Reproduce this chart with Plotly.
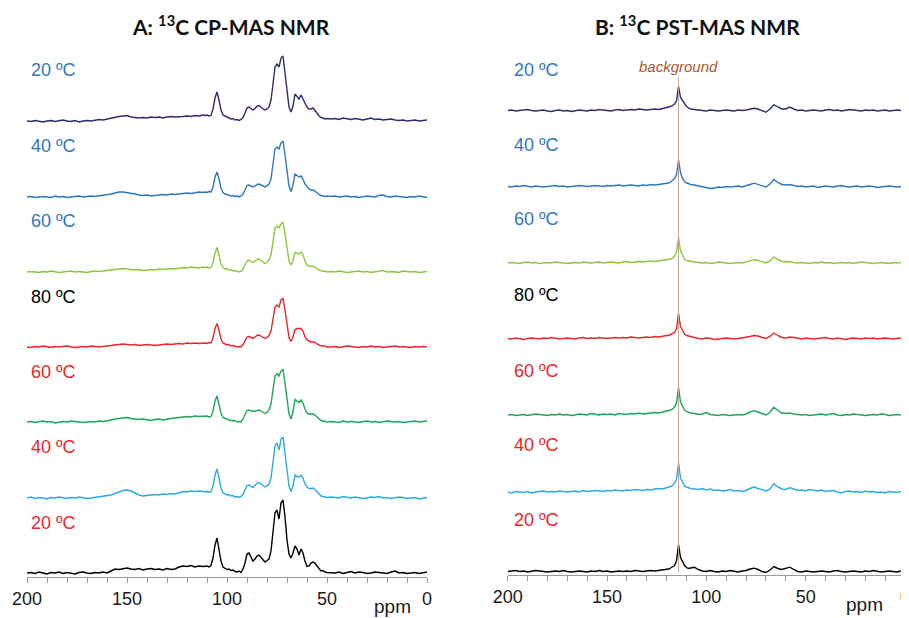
import plotly.graph_objects as go

# ---------------- data ----------------
# chemical-shift sampling grids (ppm), coarse on baseline, fine across peaks
PPM_A = list(range(200, 111, -2)) + list(range(111, 49, -1)) + list(range(48, -1, -2))
PPM_B = list(range(200, 119, -2)) + list(range(119, 107, -1)) + list(range(106, -1, -2))

LABELS_A = ["20 ºC", "40 ºC", "60 ºC", "80 ºC", "60 ºC", "40 ºC", "20 ºC"]
LABELS_B = ["20 ºC", "40 ºC", "60 ºC", "80 ºC", "60 ºC", "40 ºC", "20 ºC"]
BACKGROUND_PPM = 114
TICK_PPM = [200, 150, 100, 50, 0]

# Panel A: 13C CP-MAS intensities (arbitrary units), order top -> bottom
A1 = ([0, -0.5, 0.5, 0, -1, 0, 0.5, -0.5, 0, 1, 0, -0.5, 0.5, -1, 0, 0.5, 0, 1, 1.5, 1, 2]
      + [2.5, 3.5, 4.5, 5, 5.5, 4, 3.5, 3, 3.5, 3, 4, 3.5, 4, 3, 4, 4.5, 4]
      + [4, 4.5, 5, 4.5, 5.5, 5, 6]
      + [5.5, 6, 5, 5.5, 12, 23, 29, 21, 11, 6,
         5, 3.5, 3, 2, 2.5, 1, 1.5, 0.5, 1.5, 3.5,
         8, 13, 14, 12.5, 11, 12.5, 15, 15.5, 13.5, 12,
         11, 12, 14, 21, 37, 54, 57, 54, 63, 65,
         48, 28, 14, 9, 15, 27, 25, 22, 26, 22,
         17, 14, 12, 12, 13, 11, 8, 5, 3.5, 3,
         2, 2.5]
      + [2, 2.5, 1.5, 3, 2, 1.5, 2.5, 2, 1, 2, 3, 1.5, 2, 1, 1.5, 2, 1, 0.5, 1, 0, 0.5, 1, 0, 0.5, 1])
A2 = ([0, 0.5, -0.5, 0, 0.5, 0, -0.5, 1, 0, 0.5, -0.5, 0, 0.5, 1, 0, 0.5, 1, 0.5, 1, 1.5, 2]
      + [3, 4, 5, 5, 4.5, 3.5, 3, 2, 1.5, 2, 1, 1.5, 2, 2.5, 2, 3, 2.5]
      + [3, 3.5, 4, 3.5, 4.5, 5, 4.5]
      + [5, 4.5, 5.5, 5, 10, 20, 25, 18, 9, 4.5,
         3, 2.5, 2, 1, 1.5, 0.5, 1, 0, 1, 3,
         7, 11.5, 12, 11, 10, 11, 12.5, 13, 12, 10.5,
         10, 11, 13, 18, 33, 48, 50, 48, 54, 56,
         42, 25, 11, 5.5, 12, 23, 21, 20, 21, 18,
         13, 10, 8, 7, 7, 6, 4, 2.5, 1.5, 1,
         0.5, 1]
      + [0.5, 1, 0, 0.5, 1, 0, 0.5, -0.5, 0, 1, 0.5, 0, 1.5, 2, 0.5, 0, 1, 0.5, 0, -0.5, 0.5, 0, 1, 0, -0.5])
A3 = ([0, 0.5, 0, -0.5, 0.5, 0, 1, 0, -0.5, 0, 0.5, 1, 0, 0.5, 0, -0.5, 0.5, 1, 0.5, 1, 1.5]
      + [2, 2.5, 3, 3.5, 3, 2.5, 2, 2.5, 1.5, 2, 2.5, 2, 3, 2.5, 3, 3.5, 3]
      + [4, 4.5, 4, 5, 4.5, 4, 5]
      + [4.5, 5, 4, 4.5, 9, 19, 24.5, 17, 8, 4.5,
         3, 3.5, 2, 2.5, 1, 1.5, 0.5, 0, 0.5, 3,
         7, 11, 12, 10.5, 9.5, 11, 12.5, 13, 11.5, 10,
         8.5, 10, 12, 17, 30, 44, 46, 44, 48, 50,
         38, 22, 11, 7, 11, 19.5, 18.5, 18, 20, 17,
         11, 7, 6, 5.5, 5.5, 5, 3.5, 2, 1.5, 0.5,
         1, 0]
      + [0.5, 0, 1, 0.5, -0.5, 0, 0.5, 1, 0, 0.5, -0.5, 0, 0.5, 1.5, 0, 0.5, 0, -0.5, 1, 0.5, 0, 0.5, -0.5, 0, 0.5])
A4 = ([0, -0.5, 0.5, 0, 1, 0, -0.5, 0.5, 0, 0.5, 1, 0, -0.5, 0, 0.5, 0, 1, 0.5, 0, 0.5, 1]
      + [1.5, 2, 2.5, 3, 2.5, 2, 2.5, 1.5, 2, 2.5, 2, 1.5, 2, 2.5, 3, 2.5, 3]
      + [3.5, 3, 4, 3.5, 4, 3.5, 4]
      + [4, 3.5, 4.5, 4, 9, 18.5, 23.5, 16.5, 8, 4,
         3, 2, 2.5, 1, 1.5, 0.5, 0, 0.5, 0, 2.5,
         6, 10, 10.5, 9.5, 8.5, 10, 11.5, 12, 11, 9.5,
         8.5, 9.5, 11.5, 16, 28, 40, 42, 40, 47, 48.5,
         37, 21, 9.5, 5.5, 10, 17.5, 18.5, 18.5, 18.5, 16,
         10, 7, 6, 5, 5, 4.5, 3, 2, 1, 1.5,
         0.5, 0]
      + [0, 0.5, -0.5, 0, 1, 0.5, 0, -0.5, 0.5, 0, 1, 0, 0.5, -0.5, 0, 0.5, 1, 0, 0.5, 0, -0.5, 0.5, 0, 0.5, 0])
A5 = ([0, 0.5, -0.5, 0, 1, 0, 0.5, -1, 0, 0.5, 0, 1, 0.5, 0, -0.5, 0, 0.5, 0, 1, 0.5, 1]
      + [2, 3, 3.5, 4, 4.5, 3.5, 3, 2.5, 3, 2, 1.5, 2.5, 3, 2, 3, 3.5, 4]
      + [4.5, 5, 5.5, 5, 6, 5.5, 6]
      + [5.5, 6, 5, 5.5, 11, 21, 26, 18.5, 9, 4.5,
         3.5, 2.5, 2, 1.5, 1, 1.5, 0, 0.5, 0, 3,
         7, 11.5, 12, 11, 10.5, 11, 11.5, 12, 11, 9.5,
         8.5, 9.5, 12, 18, 32, 46, 48.5, 46, 51, 52.5,
         39, 21, 8, 3, 10, 22.5, 21, 19.5, 22, 19,
         13, 9, 8, 8, 8, 7, 5, 3, 1.5, 1,
         0.5, 0]
      + [0.5, 0, -0.5, 1, 0, 0.5, 0, -0.5, 0.5, 1, 0, 0.5, -0.5, 0, 1, 0.5, 0, 0.5, -0.5, 0, 0.5, 1, 0, 0.5, 1])
A6 = ([0, 1, -0.5, 0.5, 0, -1, 0.5, 0, 1, 0, -0.5, 0.5, 0, 1, 0.5, -0.5, 0, 0.5, 1, 1.5, 2]
      + [3, 4.5, 6, 7.5, 8, 7, 5, 3, 2, 2.5, 3, 3.5, 3, 4, 3.5, 4.5, 4]
      + [5.5, 6.5, 6, 7, 6.5, 7, 6.5]
      + [6, 6.5, 5.5, 6.5, 12, 23, 29, 20, 10, 5,
         4, 3, 3.5, 2, 2.5, 1, 1.5, 0.5, 1.5, 3.5,
         8, 12.5, 13, 12, 10.5, 12.5, 15, 15.5, 14, 12,
         11, 12, 14, 20, 36, 52, 55, 48, 59, 61,
         45, 26, 12, 6.5, 12, 23, 21.5, 21, 23, 20,
         14, 11, 9.5, 9.5, 10, 8.5, 6, 3.5, 2, 1.5,
         1, 0.5]
      + [1, 0.5, 0, 1.5, 0.5, 0, 1, 0.5, -0.5, 0, 1, 0.5, 1.5, 0, 0.5, -0.5, 0, 1, 0.5, -0.5, 0, 0.5, -1, 0, 0.5])
A7 = ([0, 0.5, -0.5, 1, 0, -1, 0.5, 0, 1, -0.5, 0.5, 0, -1, 0.5, 1, 0, -0.5, 0.5, 0, 1, 0]
      + [2, 4, 3.5, 4.5, 5, 4, 3.5, 4.5, 3, 4, 4.5, 3.5, 4, 3, 4.5, 3.5, 4]
      + [6, 7, 6.5, 7.5, 6, 7, 6.5]
      + [6.5, 7, 6, 7.5, 15, 28, 35, 24, 12, 6,
         4.5, 3.5, 4, 2.5, 3, 1.5, 1, 2, 0.5, 4,
         10, 19, 20, 16, 12, 14, 17, 18, 15.5, 13,
         11, 12.5, 14, 22, 41, 60, 63, 54, 70, 73,
         56, 33, 19, 15, 20, 27, 24, 18, 24, 20,
         12, 6.5, 7, 10, 11, 10, 7, 4, 2, 2.5,
         1, 0.5]
      + [0.5, 0, 1, -0.5, 0.5, 1.5, 0, 1, 0.5, -0.5, 0, 1, 0.5, 0, -0.5, 1, 2, 0, 0.5, -0.5, 0, 0.5, -0.5, 0, 1])

# Panel B: 13C PST-MAS intensities (arbitrary units), order top -> bottom
B1 = ([0, 0.5, -0.5, 0, 0.5, 1, 0, -0.5, 0, 0.5,
       -0.5, -1, 0, 0.5, -0.5, 0, -1, 0, 0.5, 0,
       -0.5, 0.5, 0, 1, 0.5, 0, -0.5, 0.5, 1, 0,
       0.5, 1, 0.5, 1.5, 1, 0.5, 1, 1.5, 1, 2,
       2.5]
      + [3, 4, 5, 6.5, 10, 24.5, 13, 10, 6, 4, 2.5, 1.5]
      + [1, 0.5, 0, -0.5, 0.5, 0, -0.5, 0, 0.5, 0,
         -0.5, 0.5, 0, 0.5, 1.5, 2.3, 1.5, 0, -1.7, 1.5,
         5.7, 3.5, 1.5, 1.5, 3.4, 1.5, 0, 0.5, -0.5, 0,
         0.5, 0, -0.5, 0.5, 1, 0, 0.5, -0.5, 0, 1,
         0.5, 0, -0.5, 0.5, 0, 0.5, -0.5, 0, 0.5, -0.5,
         0, 0.5, 0, -0.5])
B2 = ([0, -0.5, 0.5, 0, 1, 0, -0.5, 0.5, 0, -0.5,
       0, 0.5, 1, 0, 0.5, -0.5, 0, 0.5, 1, 0.5,
       0, 0.5, 1, 0.5, 0, 1, 0.5, 1, 1.5, 0.5,
       1, 1.5, 1, 0.5, 1.5, 1, 2, 1.5, 2, 2.5,
       3]
      + [3.5, 4.5, 6, 8, 12, 26.5, 14, 8, 5, 3.5, 3, 2]
      + [1.5, 0.5, 0, -1, -2, -1.5, -0.5, -1, 0, -0.5,
         0, 0.5, -0.5, 0.5, 2, 3.3, 2, 0.5, -0.5, 2.5,
         7, 4, 2, 1.5, 2, 1, 0, 0.5, -0.5, 0,
         0.5, -1, 0, 0.5, 0, -0.5, 0.5, 1, 0, -0.5,
         0, 0.5, -0.5, 0, 0.5, 0, -1, -0.5, 0, 0.5,
         0, -0.5, 0, -0.5])
B3 = ([0, 0.5, 0, -0.5, 0.5, 1, 0, 0.5, -0.5, 0,
       0.5, 0, 1, 0.5, 0, -0.5, 0, 0.5, 0, 1,
       0.5, 0, 0.5, 1, 0, 0.5, 1, 0.5, 0, 1,
       1.5, 0.5, 1, 1.5, 1, 1.5, 2, 1.5, 2, 2.5,
       3]
      + [3.5, 4, 5, 7, 11, 25.5, 12, 7, 4, 2.5, 2, 1.5]
      + [1, 0.5, 0, 0.5, -0.5, 0, 1, 0.5, 0, -0.5,
         0, 0.5, 0, 1, 2.5, 3.3, 2.5, 1, 0, 2,
         6, 3.5, 1.5, 1, 1.5, 0.5, 0, 0.5, 0, -0.5,
         0.5, 0, 1, 0, 0.5, -0.5, 0, 0.5, 0, 0.5,
         -0.5, 0, 1, 0.5, 0, -0.5, 0, 0.5, 0, -0.5,
         0.5, 0, 0.5, 0])
B4 = ([0, -0.5, 0.5, 0, -1, 0, 0.5, 0, -0.5, 0.5,
       0, 1, 0, -0.5, 0, 0.5, 0, -0.5, 0.5, 1,
       0, 0.5, 0, 1, 0.5, 0, 0.5, 1, 0.5, 1,
       0.5, 1.5, 1, 0.5, 1, 1.5, 1, 2, 1.5, 2.5,
       3]
      + [3, 4, 4.5, 6, 10, 25, 12, 7.5, 4.5, 3, 2.5, 1.5]
      + [1, 0, -0.5, 0.5, 0, -1, -0.5, 0, 0.5, 0,
         -0.5, 0, 0.5, 1, 2, 3, 2.5, 1, 0, 2,
         5.5, 3, 1, 0.5, 1.5, 1, 0, -0.5, 0.5, 0,
         -0.5, 0, 0.5, 1, 0, -0.5, 0.5, 0, -1, 0,
         0.5, 0, -0.5, 0.5, 0, 0.5, -0.5, 0, 0.5, 0,
         -0.5, 0, 0.5, 0])
B5 = ([0, 0.5, -0.5, 0, 0.5, -0.5, 0, 1, 0.5, 0,
       -0.5, 0.5, 0, 1, 0, 0.5, -0.5, 0, 1, 0.5,
       0, 1.5, 0.5, 0, 1, 0.5, 1, 0, 1.5, 1,
       0.5, 1.5, 1, 2, 1, 1.5, 2, 2.5, 2, 3,
       3.5]
      + [4, 5, 6, 8, 12.5, 27.5, 13, 8, 5, 3.5, 2.5, 2]
      + [1.5, 0.5, 1, 2.5, 0.5, 0, -0.5, 0.5, 0, -0.5,
         0, 0.5, 0, 1, 3, 4.3, 3, 1.5, 0, 2.5,
         7.7, 4.5, 2, 1.5, 2, 1, 0.5, 0, 0.5, -0.5,
         0, 0.5, 1, 0, 0.5, 1.5, 0, -0.5, 0.5, 0,
         1, 0.5, 0, -0.5, 0, 0.5, 0, 1, 0.5, -0.5,
         0, 0.5, 0, 0.5])
B6 = ([0, -1, 0.5, 0, -0.5, 0.5, -1, 0, 0.5, 1,
       0, 0.5, 0, 1, 0.5, 0, 0.5, 1, 0, 1.5,
       0.5, 1, 1.5, 1, 0.5, 1.5, 1, 2, 1.5, 1,
       2, 1.5, 2.5, 2, 1.5, 2.5, 2, 3, 3.5, 3,
       4]
      + [4.5, 5.5, 6.5, 9, 13, 29, 14, 9, 6, 5, 4, 3.5]
      + [3, 2.5, 3.5, 2, 3, 1.5, 2, 1, 1.5, 2.5,
         1, 1.5, 0.5, 1.5, 3.5, 5, 3.5, 2, 1, 3,
         8.3, 5, 3, 2.5, 4.3, 3, 1.5, 2, 1, 2.5,
         1.5, 1, 2, 0.5, 1, 1.5, 0, -1, 0.5, 1,
         0, 0.5, -0.5, 1, 0, 0.5, -0.5, 0, -1, 0.5,
         0, -0.5, 0.5, 0])
B7 = ([0, 0.5, 1, 0, 0.5, -0.5, 0, 1, 0.5, 0,
       -0.5, 0, 0.5, 0, 1, 0, -0.5, 0, 0.5, 0,
       -0.5, 0.5, 0, 1, 0, 0.5, -0.5, 0, 0.5, 0,
       0.5, 0, 1, 0.5, 0, 0.5, 1, 0.5, 1, 1.5,
       2]
      + [2.5, 3.5, 4.5, 6, 11, 27, 14, 10, 6, 4, 3, 3.5]
      + [4.3, 2, 0.5, 0, 1, 0, -0.5, 0.5, 0, 1,
         0, -0.5, 0.5, 1, 2.5, 3.3, 2, 0, -1, 1.5,
         5, 3, 2, 3, 4.3, 2, 0, -0.5, 0.5, 0,
         -0.5, 0, 0.5, 0, -0.5, 0.5, 1, 0, -0.5, 0,
         0.5, 0, -0.5, 0.5, 0, 1, 0, -0.5, 0, 0.5,
         0, -0.5, 0.5, 1])

SPECTRA_A = [A1, A2, A3, A4, A5, A6, A7]
SPECTRA_B = [B1, B2, B3, B4, B5, B6, B7]
for s in SPECTRA_A:
    assert len(s) == len(PPM_A), len(s)
for s in SPECTRA_B:
    assert len(s) == len(PPM_B), len(s)

# ---------------- styles / layout ----------------
W, H = 909, 618
PAGE_OFFSET = 8  # the page places the figure 8 px in from the window's top-left corner
TRACE_COLORS = ["#2B2D6E", "#2F77BD", "#8DC73F", "#E8262B", "#1FA55A", "#2BABE2", "#000000"]
LABEL_COLORS = ["#2F77BD", "#2F77BD", "#2F77BD", "#000000", "#E8262B", "#E8262B", "#E8262B"]
BASE_A_PX = [121, 197, 272, 347, 422, 498, 573]
BASE_B_PX = [110.5, 186.5, 263, 338.5, 415, 492, 571.5]
LABEL_A_PX = [70.5, 146, 221, 296.5, 372, 447, 522.5]
LABEL_B_PX = [70, 145, 219.5, 295, 371, 444.5, 519.5]
BELOW_A, BELOW_B, SPAN = 4, 3.5, 80


def px_(x):
    return (x - PAGE_OFFSET) / W


def py(y):
    return 1 - (y - PAGE_OFFSET) / H


fig = go.Figure()
layout = dict(
    width=W, height=H, margin=dict(l=0, r=0, t=0, b=0, autoexpand=False),
    paper_bgcolor="white", plot_bgcolor="rgba(0,0,0,0)", showlegend=False,
    font=dict(family="Liberation Sans, Arial, sans-serif", color="#1a1a1a"),
)


def xaxis_cfg(domain, anchor):
    return dict(
        domain=domain, range=[200, 0], anchor=anchor, automargin=False,
        tickmode="array", tickvals=TICK_PPM, ticktext=[str(v) for v in TICK_PPM],
        ticks="outside", ticklen=5, tickwidth=1, tickcolor="#9a9a9a",
        showline=True, linecolor="#9a9a9a", linewidth=1,
        showgrid=False, zeroline=False,
        minor=dict(tickvals=list(range(0, 201, 10)), ticks="outside", ticklen=5,
                   tickwidth=1, tickcolor="#9a9a9a", showgrid=False),
        tickfont=dict(size=18, color="#1a1a1a"),
    )


layout["xaxis"] = xaxis_cfg([px_(27), px_(427)], "y7")
layout["xaxis2"] = xaxis_cfg([px_(507.7), px_(905)], "y14")

for i, (vals, yb) in enumerate(zip(SPECTRA_A, BASE_A_PX)):
    k = i + 1
    layout["yaxis" if k == 1 else f"yaxis{k}"] = dict(
        domain=[py(yb + BELOW_A), py(yb + BELOW_A - SPAN)], range=[-BELOW_A, SPAN - BELOW_A],
        visible=False, anchor="x", automargin=False)
    fig.add_trace(go.Scatter(x=PPM_A, y=vals, mode="lines", xaxis="x",
                             yaxis="y" if k == 1 else f"y{k}", cliponaxis=False,
                             line=dict(color=TRACE_COLORS[i], width=1.4), hoverinfo="skip"))

for i, (vals, yb) in enumerate(zip(SPECTRA_B, BASE_B_PX)):
    k = i + 8
    layout[f"yaxis{k}"] = dict(
        domain=[py(yb + BELOW_B), py(yb + BELOW_B - SPAN)], range=[-BELOW_B, SPAN - BELOW_B],
        visible=False, anchor="x2", automargin=False)
    fig.add_trace(go.Scatter(x=PPM_B, y=vals, mode="lines", xaxis="x2", yaxis=f"y{k}",
                             cliponaxis=False,
                             line=dict(color=TRACE_COLORS[i], width=1.4), hoverinfo="skip"))

ann = []
for lab, ypx, col in zip(LABELS_A, LABEL_A_PX, LABEL_COLORS):
    ann.append(dict(text=lab, x=px_(29), y=py(ypx), xref="paper", yref="paper",
                    xanchor="left", yanchor="middle", showarrow=False,
                    font=dict(size=18, color=col)))
for lab, ypx, col in zip(LABELS_B, LABEL_B_PX, LABEL_COLORS):
    ann.append(dict(text=lab, x=px_(512), y=py(ypx), xref="paper", yref="paper",
                    xanchor="left", yanchor="middle", showarrow=False,
                    font=dict(size=18, color=col)))
title_font = dict(family="Lato, Liberation Sans, sans-serif", size=21, color="#111111", weight="bold")
ann.append(dict(text="<b>A: <sup>13</sup>C CP-MAS NMR</b>", x=px_(231), y=py(25),
                xref="paper", yref="paper", xanchor="center", yanchor="middle",
                showarrow=False, font=title_font))
ann.append(dict(text="<b>B: <sup>13</sup>C PST-MAS NMR</b>", x=px_(697.5), y=py(25),
                xref="paper", yref="paper", xanchor="center", yanchor="middle",
                showarrow=False, font=title_font))
ann.append(dict(text="ppm", x=px_(392), y=py(606), xref="paper", yref="paper",
                xanchor="center", yanchor="middle", showarrow=False, font=dict(size=19)))
ann.append(dict(text="ppm", x=px_(864), y=py(604), xref="paper", yref="paper",
                xanchor="center", yanchor="middle", showarrow=False, font=dict(size=19)))
ann.append(dict(text="<i>background</i>", x=BACKGROUND_PPM, xref="x2", y=py(66), yref="paper",
                xanchor="center", yanchor="middle", showarrow=False,
                font=dict(size=15, color="#A65A2E")))
layout["annotations"] = ann
layout["shapes"] = [dict(type="line", xref="x2", yref="paper", x0=BACKGROUND_PPM, x1=BACKGROUND_PPM,
                         y0=py(572), y1=py(77), line=dict(color="#C9A68E", width=1))]

fig.update_layout(**layout)
fig.write_html("out.html")
